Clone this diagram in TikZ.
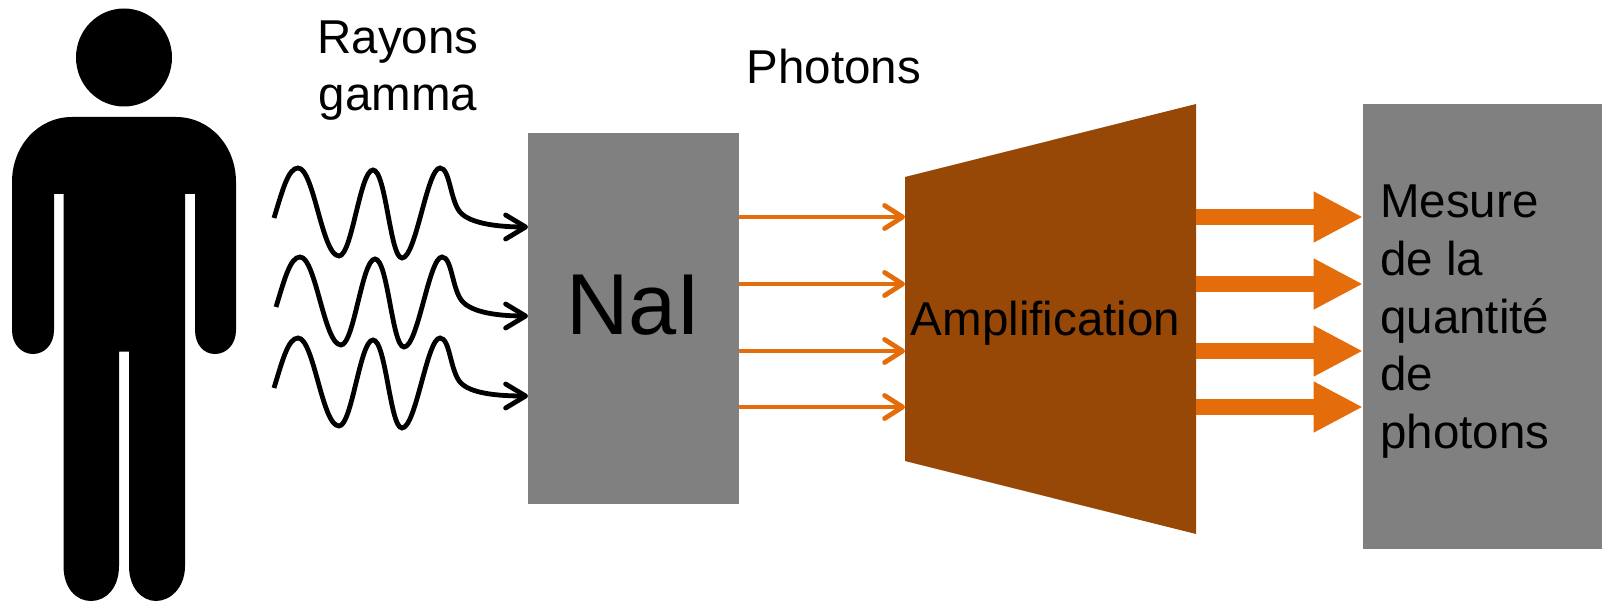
\documentclass[tikz,border=0pt]{standalone}
\usepackage{fontspec}
\setmainfont{Liberation Sans}
\usetikzlibrary{arrows.meta,calc}
\definecolor{boxgray}{RGB}{128,128,128}
\definecolor{ampbrown}{RGB}{151,72,6}
\definecolor{photonorange}{RGB}{228,108,10}
\tikzset{
  boxnode/.style={fill=boxgray,draw=none,inner sep=0pt,anchor=north west},
  lbl/.style={inner sep=0pt,align=left,font=\fontsize{47.5}{57.7}\selectfont},
  wave/.style={draw=black,line width=4.8pt,line cap=butt,-{Straight Barb[round,length=20pt,width=24pt,line width=4.8pt]}},
  thinarrow/.style={draw=photonorange,line width=4.8pt,-{Straight Barb[round,length=18pt,width=23pt,line width=4.8pt]}},
  thickarrow/.style={draw=photonorange,line width=16.6pt,-{Triangle[length=49.5pt,width=47.5pt]}}
}
\begin{document}
\begin{tikzpicture}[x=1pt,y=-1pt]
\useasboundingbox (0,0) rectangle (1602,601);
% person
\fill[black] (124,57.5) ellipse [x radius=48,y radius=49];
\fill[black] (72,117) -- (176,117)
  .. controls (210,117) and (236,146) .. (236,182)
  -- (236,330) .. controls (236,345) and (226,354) .. (215,354)
  .. controls (204,354) and (195,345) .. (195,330)
  -- (195,194) -- (185,194) -- (185,566)
  .. controls (185,588) and (170,601) .. (156,601)
  .. controls (142,601) and (129,588) .. (129,566)
  -- (129,351.5) -- (119,351.5) -- (119,566)
  .. controls (119,588) and (106,601) .. (91,601)
  .. controls (76,601) and (63.5,588) .. (63.5,566)
  -- (63.5,194) -- (54,194) -- (54,330)
  .. controls (54,345) and (44,354) .. (33,354)
  .. controls (22,354) and (12,345) .. (12,330)
  -- (12,182) .. controls (12,146) and (38,117) .. (72,117) -- cycle;
% boxes
\node[boxnode,minimum width=211pt,minimum height=371pt] (nai) at (528,133) {};
\node[inner sep=0pt,font=\fontsize{86.5}{90}\selectfont] (nailabel) at (633.5,305) {NaI};
\path[fill=ampbrown] (905,177) coordinate (ampA) -- (1196,104) coordinate (ampB) -- (1196,534) coordinate (ampC) -- (905,461) coordinate (ampD) -- cycle;
\node[lbl,anchor=center] (amp) at (1045.5,323) {Amplification};
\node[boxnode,minimum width=239pt,minimum height=445pt] (mes) at (1363,104) {};
\node[lbl,anchor=north west] (meslabel) at (1380,185) {Mesure\\de la\\quantité\\de\\photons};
% labels
\node[lbl,align=center,anchor=center] (gamma) at (398,70.5) {Rayons\\gamma};
\node[lbl,anchor=center] (phot) at (834,67) {Photons};
% waves
\coordinate (w1) at (nai.west |- 0,227);
\coordinate (w2) at (nai.west |- 0,316);
\coordinate (w3) at (nai.west |- 0,396);
\draw[wave] (274,218) .. controls (282,192) and (288,168) .. (298,168)
  .. controls (314,168) and (322,256) .. (339,256)
  .. controls (352,256) and (360,170) .. (373,170)
  .. controls (386,170) and (390,258) .. (402,258)
  .. controls (416,258) and (427,168) .. (440,168)
  .. controls (450,168) and (450,200) .. (460,212)
  .. controls (470,224) and (500,227) .. (w1);
\draw[wave] (276,307) .. controls (284,281) and (290,257) .. (300,257)
  .. controls (316,257) and (324,345) .. (341,345)
  .. controls (354,345) and (362,259) .. (375,259)
  .. controls (388,259) and (392,347) .. (404,347)
  .. controls (418,347) and (429,257) .. (442,257)
  .. controls (452,257) and (452,289) .. (462,301)
  .. controls (472,313) and (500,316) .. (w2);
\draw[wave] (274,388) .. controls (282,362) and (288,338) .. (298,338)
  .. controls (314,338) and (322,426) .. (339,426)
  .. controls (352,426) and (360,340) .. (373,340)
  .. controls (386,340) and (390,428) .. (402,428)
  .. controls (416,428) and (427,338) .. (440,338)
  .. controls (450,338) and (450,370) .. (460,382)
  .. controls (470,394) and (500,396) .. (w3);
% arrows
\foreach \n/\yy in {a/217,b/284,c/351,d/407}{
  \coordinate (t\n) at (nai.east |- 0,\yy);
  \coordinate (h\n) at (ampA |- 0,\yy);
  \coordinate (u\n) at (ampB |- 0,\yy);
  \coordinate (v\n) at (mes.west |- 0,\yy);
  \draw[thinarrow] (t\n) -- (h\n);
  \draw[thickarrow] (u\n) -- (v\n);
}
\end{tikzpicture}
\end{document}
